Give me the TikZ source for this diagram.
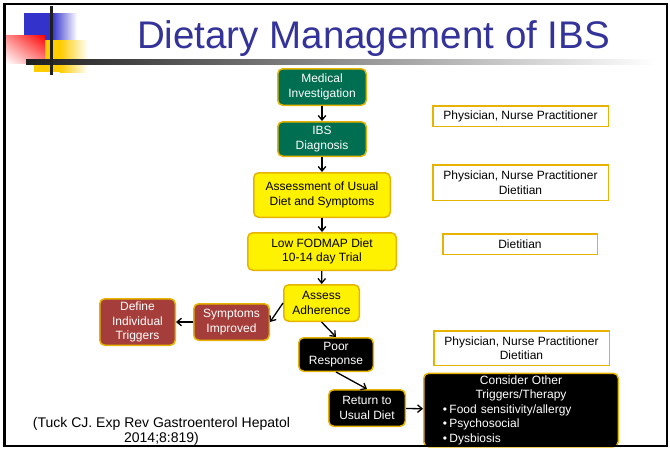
\documentclass[tikz,border=0pt]{standalone}
\usepackage{fontspec}
\setmainfont{Liberation Sans}
\usetikzlibrary{arrows.meta,shadings}
\definecolor{ibsgreen}{RGB}{0,110,80}
\definecolor{ibsgold}{RGB}{230,180,0}
\definecolor{ibsred}{RGB}{165,62,58}
\definecolor{ibsblue}{RGB}{51,51,153}
\definecolor{decoblue}{RGB}{51,51,204}
\definecolor{decoyellow}{RGB}{255,204,0}
\begin{document}
\begin{tikzpicture}[x=1pt,y=-1pt,
    every node/.style={font=\fontsize{12}{14.5}\selectfont, inner sep=0pt, align=center},
    flowbox/.style={draw=ibsgold, line width=1.5pt, rounded corners=5pt},
    greenbox/.style={flowbox, fill=ibsgreen, text=white},
    yellowbox/.style={flowbox, fill=yellow},
    redbox/.style={flowbox, fill=ibsred, text=white},
    blackbox/.style={flowbox, fill=black, text=white},
    rolebox/.style={draw=ibsgold, line width=1.5pt, fill=white},
    flowarrow/.style={-{Straight Barb[length=4.5pt,width=7.5pt]}, line width=1.3pt}]
\useasboundingbox (0,0) rectangle (670,448);
\fill[white] (0,0) rectangle (670,448);
% corner decoration
\fill[decoblue] (24,13) rectangle (52,40); % Deco.blue
\shade[left color=decoblue, right color=white] (52,13) rectangle (77,40);
\fill[decoyellow] (34,40) rectangle (60,72); % Deco.yellow
\shade[left color=decoyellow, right color=white] (60,40) rectangle (88,72);
\shade[upper right=red, upper left=red!45, lower right=red!45, lower left=white] (5,35) rectangle (45,63); % Deco.red
\shade[left color=black!88, right color=white] (26,59) rectangle (655,64); % Deco.bar
\fill[black!88] (50,6) rectangle (53,75); % Deco.line
\node[font=\fontsize{38.5}{40}\selectfont, text=ibsblue, anchor=base] (title) at (373.5,48) {Dietary Management of IBS};
% flow
\node[greenbox, minimum width=88.5pt, minimum height=36.5pt] (med) at (322,87) {Medical\\Investigation}; % Step.1
\node[greenbox, minimum width=88.5pt, minimum height=34.5pt] (ibs) at (322,139) {IBS\\Diagnosis}; % Step.2
\node[yellowbox, minimum width=136.5pt, minimum height=44.5pt] (usual) at (322,195) {Assessment of Usual\\Diet and Symptoms}; % Step.3
\node[yellowbox, minimum width=148.5pt, minimum height=37.5pt] (fodmap) at (322,251.5) {Low FODMAP Diet\\10-14 day Trial}; % Step.4
\node[yellowbox, minimum width=75.5pt, minimum height=36.5pt] (adh) at (321.5,303) {Assess\\Adherence}; % Step.5
\node[redbox, minimum width=75.5pt, minimum height=36.5pt] (sympt) at (231.5,322) {Symptoms\\Improved}; % Good.1
\node[redbox, minimum width=75.5pt, minimum height=46.5pt] (trig) at (137.5,322) {Define\\Individual\\Triggers}; % Good.2
\node[blackbox, minimum width=74.5pt, minimum height=33.5pt] (poor) at (336,354.5) {Poor\\Response}; % Poor.1
\node[blackbox, minimum width=76.5pt, minimum height=36.5pt] (ret) at (367,408) {Return to\\Usual Diet}; % Poor.2
\node[blackbox, minimum width=194.5pt, minimum height=73.5pt, text width=194.5pt, align=left] (other) at (521,410) {\centering Consider Other\\Triggers/Therapy\par
  \raggedright\hspace*{19pt}\textbullet\hspace{2.5pt}Food sensitivity/allergy\\
  \hspace*{19pt}\textbullet\hspace{2.5pt}Psychosocial\\
  \hspace*{19pt}\textbullet\hspace{2.5pt}Dysbiosis}; % Poor.3
% who
\node[rolebox, minimum width=175.5pt, minimum height=20.5pt] (who1) at (520.5,116) {Physician, Nurse Practitioner}; % Role.1
\node[rolebox, minimum width=175.5pt, minimum height=35.5pt] (who2) at (520.5,182.5) {Physician, Nurse Practitioner\\Dietitian}; % Role.2
\node[rolebox, minimum width=154.5pt, minimum height=20.5pt] (who3) at (520,244) {Dietitian}; % Role.3
\node[rolebox, minimum width=175.5pt, minimum height=34.5pt] (who4) at (521.5,348) {Physician, Nurse Practitioner\\Dietitian}; % Role.4
\node[font=\fontsize{14}{15}\selectfont] (cite) at (161.5,431) {(Tuck CJ. Exp Rev Gastroenterol Hepatol\\2014;8:819)}; % Ref
% arrows
\draw[flowarrow] (med) -- (ibs);
\draw[flowarrow] (ibs) -- (usual);
\draw[flowarrow] (usual) -- (fodmap);
\draw[flowarrow] (fodmap) -- (adh);
\draw[flowarrow] (adh.west) -- (sympt.east);
\draw[flowarrow] (sympt) -- (trig);
\draw[flowarrow] (adh.south) -- (poor.north);
\draw[flowarrow] (poor.south) -- (ret.north);
\draw[flowarrow] (ret) -- (other);
% frame
\draw[line width=2.2pt] (4.5,4) rectangle (667,446);
\end{tikzpicture}
\end{document}
